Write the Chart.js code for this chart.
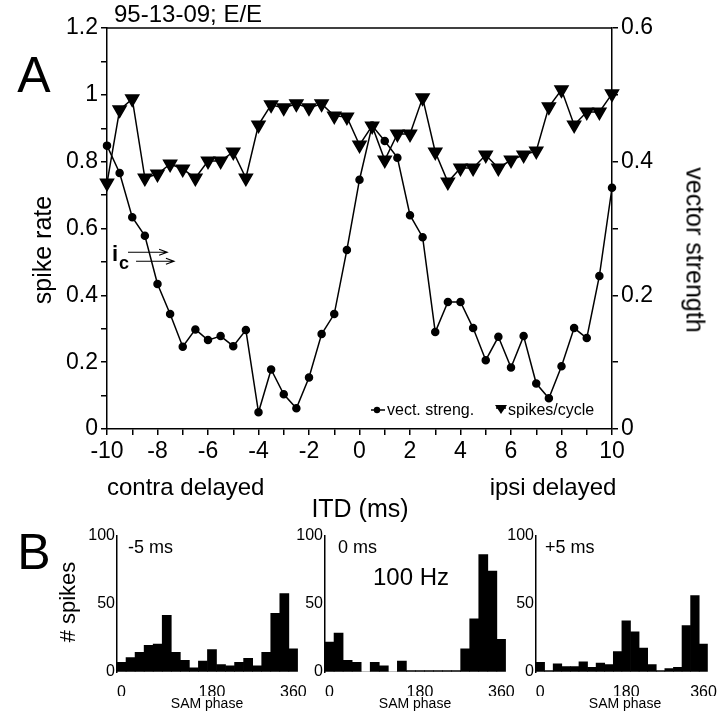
<!DOCTYPE html>
<html>
<head>
<meta charset="utf-8">
<script src="https://cdn.jsdelivr.net/npm/chart.js@4.4.1/dist/chart.umd.min.js"></script>
<style>
  body { margin: 0; background: #fff; }
  #wrap { position: relative; width: 720px; height: 715px; overflow: hidden; }
  canvas { position: absolute; }
  .t { position: absolute; white-space: nowrap; font-family: 'Liberation Sans', Arial, sans-serif; color: #000; line-height: 1; }
  .c { transform: translate(-50%, -50%); }
  .l { transform: translate(0, -50%); }
</style>
</head>
<body>
<div id="wrap">
  <canvas id="itd-chart" width="720" height="520" style="left:0;top:0"></canvas>
  <canvas id="hist-neg" width="230" height="172" style="left:80px;top:524px"></canvas>
  <canvas id="hist-zero" width="230" height="172" style="left:288px;top:524px"></canvas>
  <canvas id="hist-pos" width="221" height="172" style="left:499px;top:524px"></canvas>

  <div class="t l" style="left:114px;top:14px;font-size:24px">95-13-09; E/E</div>
  <div class="t c" style="left:34px;top:75px;font-size:50px">A</div>
  <div class="t c" style="left:42px;top:250px;font-size:25px;transform:translate(-50%,-50%) rotate(-90deg)">spike rate</div>
  <div class="t c" style="left:695px;top:250px;font-size:25px;transform:translate(-50%,-50%) rotate(90deg)">vector strength</div>
  <div class="t l" style="left:107px;top:487px;font-size:24px">contra delayed</div>
  <div class="t c" style="left:553px;top:487px;font-size:24px">ipsi delayed</div>
  <div class="t c" style="left:360px;top:508px;font-size:25px">ITD (ms)</div>
  <div class="t l" style="left:112px;top:254px;font-size:22px;font-weight:bold">i</div>
  <div class="t l" style="left:119px;top:263px;font-size:18px;font-weight:bold">c</div>

  <div class="t c" style="left:34px;top:552px;font-size:50px">B</div>
  <div class="t c" style="left:68px;top:602px;font-size:22px;transform:translate(-50%,-50%) rotate(-90deg)"># spikes</div>
  <div class="t l" style="left:128px;top:547px;font-size:18px">-5 ms</div>
  <div class="t l" style="left:338px;top:547px;font-size:18px">0 ms</div>
  <div class="t l" style="left:545px;top:547px;font-size:18px">+5 ms</div>
  <div class="t l" style="left:373px;top:577px;font-size:24px">100 Hz</div>
  <div class="t c" style="left:207px;top:703px;font-size:14px">SAM phase</div>
  <div class="t c" style="left:415px;top:703px;font-size:14px">SAM phase</div>
  <div class="t c" style="left:625px;top:703px;font-size:14px">SAM phase</div>
</div>

<script>
// Panel A: interaural time difference (ms)
const itd = [-10, -9.5, -9, -8.5, -8, -7.5, -7, -6.5, -6, -5.5, -5, -4.5, -4, -3.5, -3, -2.5, -2, -1.5, -1, -0.5,
  0, 0.5, 1, 1.5, 2, 2.5, 3, 3.5, 4, 4.5, 5, 5.5, 6, 6.5, 7, 7.5, 8, 8.5, 9, 9.5, 10];

// vector strength (right axis)
const vectStreng = [0.424, 0.383, 0.317, 0.289, 0.217, 0.172, 0.123, 0.149, 0.133, 0.139, 0.124, 0.148, 0.025, 0.089,
  0.052, 0.031, 0.077, 0.142, 0.172, 0.268, 0.373, 0.454, 0.431, 0.406, 0.320, 0.287, 0.145, 0.190, 0.190, 0.151,
  0.103, 0.138, 0.092, 0.139, 0.068, 0.046, 0.094, 0.151, 0.136, 0.229, 0.361];

// spikes per cycle (left axis)
const spikesPerCycle = [0.736, 0.955, 0.988, 0.751, 0.763, 0.793, 0.778, 0.751, 0.802, 0.802, 0.829, 0.751, 0.910,
  0.970, 0.961, 0.973, 0.961, 0.973, 0.937, 0.934, 0.850, 0.907, 0.805, 0.883, 0.883, 0.991, 0.829, 0.739, 0.781,
  0.781, 0.820, 0.781, 0.805, 0.820, 0.832, 0.964, 1.015, 0.910, 0.949, 0.949, 1.003];

// Panel B: SAM phase bins (deg, 18 deg wide)
const phaseBins = [0, 18, 36, 54, 72, 90, 108, 126, 144, 162, 180, 198, 216, 234, 252, 270, 288, 306, 324, 342];
const countsMinus5 = [7, 10.5, 14.5, 19.5, 20.5, 41.5, 14.5, 8.5, 3, 8, 16.5, 5.5, 4.5, 7, 10, 4.5, 14.5, 43, 57.5, 17];
const countsZero = [22, 28.5, 8.5, 7, 0, 7, 4.5, 0, 8, 1, 1, 1, 1, 1, 1, 17, 39, 86, 74, 24];
const countsPlus5 = [7, 1, 6, 4, 4, 7.5, 3.5, 6.5, 5.5, 15, 37.5, 29.5, 17.5, 5.5, 1, 2.5, 3.5, 34, 56, 20.5];

// ic arrows (in ITD / spike-rate units)
const icArrows = [
    { x0: -9.17, x1: -7.62, y: 0.529 },
    { x0: -8.85, x1: -7.35, y: 0.502 }
];

const FONT = "'Liberation Sans', Arial, sans-serif";
Chart.defaults.font.family = FONT;
Chart.defaults.color = '#000';

function axisStyle(size) {
    return {
        grid: { drawOnChartArea: false, drawTicks: true, tickLength: 6, color: '#000', lineWidth: 1.5 },
        border: { color: '#000', width: 1.5 },
        ticks: { autoSkip: false, maxRotation: 0, color: '#000', font: { size: size }, padding: 3 }
    };
}

// top border line + legend + ic arrows
const panelExtras = {
    id: 'panelExtras',
    afterDraw(chart) {
        const ctx = chart.ctx;
        const area = chart.chartArea;
        const xs = chart.scales.x;
        const ys = chart.scales.y;
        ctx.save();
        ctx.strokeStyle = '#000';
        ctx.fillStyle = '#000';
        ctx.lineWidth = 1.5;
        ctx.beginPath();
        ctx.moveTo(area.left, area.top);
        ctx.lineTo(area.right, area.top);
        ctx.stroke();

        // arrows
        ctx.lineWidth = 1.2;
        icArrows.forEach(a => {
            const px0 = xs.getPixelForValue(a.x0);
            const px1 = xs.getPixelForValue(a.x1);
            const py = ys.getPixelForValue(a.y);
            ctx.beginPath();
            ctx.moveTo(px0, py);
            ctx.lineTo(px1, py);
            ctx.moveTo(px1 - 8, py - 3);
            ctx.lineTo(px1, py);
            ctx.lineTo(px1 - 8, py + 3);
            ctx.stroke();
        });

        // legend
        const ly = area.bottom - 19;
        ctx.lineWidth = 1.5;
        ctx.beginPath();
        ctx.moveTo(area.left + 264, ly);
        ctx.lineTo(area.left + 278, ly);
        ctx.stroke();
        ctx.beginPath();
        ctx.arc(area.left + 270, ly, 3.2, 0, Math.PI * 2);
        ctx.fill();
        ctx.beginPath();
        ctx.moveTo(area.left + 389, ly - 2);
        ctx.lineTo(area.left + 399, ly - 2);
        ctx.stroke();
        ctx.beginPath();
        ctx.moveTo(area.left + 388, ly - 5);
        ctx.lineTo(area.left + 400, ly - 5);
        ctx.lineTo(area.left + 394, ly + 4);
        ctx.closePath();
        ctx.fill();
        ctx.font = '16px ' + FONT;
        ctx.textBaseline = 'middle';
        ctx.fillText('vect. streng.', area.left + 280, ly + 1);
        ctx.fillText('spikes/cycle', area.left + 401, ly + 1);
        ctx.restore();
    }
};

const xStyle = axisStyle(23);
const yStyle = axisStyle(23);
const y2Style = axisStyle(23);

new Chart(document.getElementById('itd-chart'), {
    type: 'line',
    data: {
        datasets: [
            {
                label: 'vect. streng.',
                data: itd.map((x, i) => ({ x: x, y: vectStreng[i] })),
                yAxisID: 'y2',
                borderColor: '#000',
                backgroundColor: '#000',
                borderWidth: 1.5,
                pointStyle: 'circle',
                pointRadius: 3.5,
                clip: false
            },
            {
                label: 'spikes/cycle',
                data: itd.map((x, i) => ({ x: x, y: spikesPerCycle[i] })),
                yAxisID: 'y',
                borderColor: '#000',
                backgroundColor: '#000',
                borderWidth: 1.5,
                pointStyle: 'triangle',
                rotation: 180,
                pointRadius: 7.5,
                clip: false
            }
        ]
    },
    options: {
        responsive: false,
        animation: false,
        events: [],
        layout: { padding: { top: 28, left: 0, right: 0, bottom: 0 } },
        plugins: { legend: { display: false }, tooltip: { enabled: false } },
        scales: {
            x: {
                type: 'linear', min: -10, max: 10,
                grid: xStyle.grid, border: xStyle.border,
                ticks: Object.assign({}, xStyle.ticks, {
                    stepSize: 1,
                    callback: v => (v % 2 === 0 ? String(v) : '')
                }),
                afterFit: s => { s.height = 91; }
            },
            y: {
                position: 'left', min: 0, max: 1.2,
                grid: yStyle.grid, border: yStyle.border,
                ticks: Object.assign({}, yStyle.ticks, {
                    stepSize: 0.1,
                    callback: v => { const r = Math.round(v * 10); return r % 2 === 0 ? String(r / 10) : ''; }
                }),
                afterFit: s => { s.width = 107; }
            },
            y2: {
                position: 'right', min: 0, max: 0.6,
                grid: y2Style.grid, border: y2Style.border,
                ticks: Object.assign({}, y2Style.ticks, {
                    stepSize: 0.1,
                    callback: v => { const r = Math.round(v * 10); return r % 2 === 0 ? String(r / 10) : ''; }
                }),
                afterFit: s => { s.width = 108; }
            }
        }
    },
    plugins: [panelExtras]
});

function histogram(id, counts, padRight) {
    new Chart(document.getElementById(id), {
        type: 'bar',
        data: {
            labels: phaseBins,
            datasets: [{
                data: counts,
                backgroundColor: '#000',
                borderWidth: 0,
                barPercentage: 1,
                categoryPercentage: 1
            }]
        },
        options: {
            responsive: false,
            animation: false,
            events: [],
            layout: { padding: { top: 10, right: padRight, left: 0, bottom: 0 } },
            plugins: { legend: { display: false }, tooltip: { enabled: false } },
            scales: {
                x: {
                    grid: { display: false },
                    border: { display: false },
                    ticks: {
                        autoSkip: false, maxRotation: 0, color: '#000', font: { size: 16 }, padding: 3,
                        callback: (v, i) => (i === 0 ? '0' : i === 10 ? '180' : i === 19 ? '360' : '')
                    },
                    afterFit: s => { s.height = 24; }
                },
                y: {
                    min: 0, max: 100,
                    grid: { display: true, drawOnChartArea: false, drawTicks: false },
                    border: { display: true, color: '#000', width: 1.5 },
                    ticks: { stepSize: 50, color: '#000', font: { size: 16 }, padding: 2 },
                    afterFit: s => { s.width = 37; }
                }
            }
        }
    });
}

histogram('hist-neg', countsMinus5, 11);
histogram('hist-zero', countsZero, 11);
histogram('hist-pos', countsPlus5, 6);
</script>
</body>
</html>
